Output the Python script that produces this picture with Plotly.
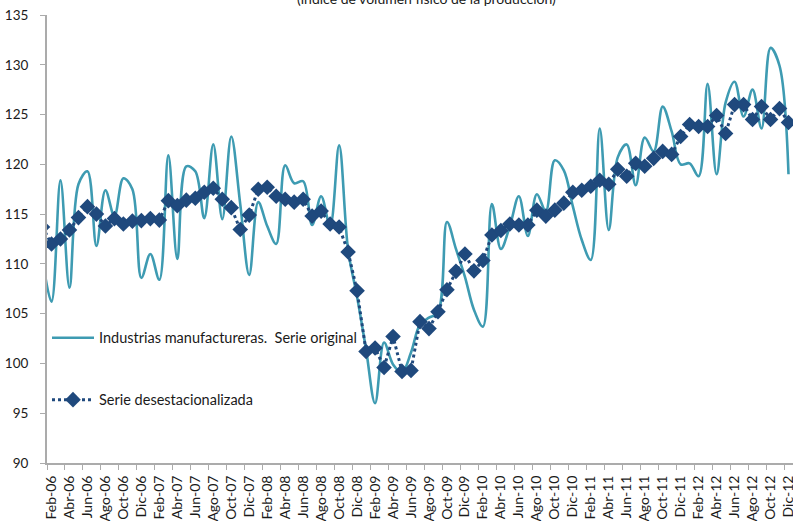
import plotly.graph_objects as go

meses = ["Ene", "Feb", "Mar", "Abr", "May", "Jun", "Jul", "Ago", "Sep", "Oct", "Nov", "Dic"]
anios = ["06", "07", "08", "09", "10", "11", "12"]
periodos = [f"{m}-{a}" for a in anios for m in meses]  # Ene-06 ... Dic-12

serie_original = [
    110.5, 106.2, 118.4, 107.6, 118.0, 119.3, 111.8, 117.4, 114.8, 118.6, 117.5, 108.6,   # 2006
    111.0, 108.4, 120.9, 110.5, 119.8, 119.3, 114.6, 122.0, 114.5, 122.8, 116.0, 108.9,   # 2007
    116.2, 113.8, 112.0, 119.9, 118.1, 118.3, 113.9, 116.8, 113.8, 121.9, 111.4, 106.7,   # 2008
    101.4, 96.0, 102.1, 99.9, 99.1, 101.1, 103.9, 104.6, 105.1, 114.2, 111.5, 108.7,      # 2009
    105.4, 103.7, 116.0, 111.5, 113.8, 116.8, 112.8, 117.0, 115.3, 120.4, 119.4, 115.8,   # 2010
    112.4, 110.4, 123.6, 113.4, 120.7, 122.0, 117.9, 122.7, 121.3, 125.8, 123.3, 120.0,   # 2011
    120.1, 118.8, 128.1, 119.0, 126.2, 128.3, 124.8, 127.5, 123.6, 131.7, 129.9, 119.0,   # 2012
]

serie_desestacionalizada = [
    113.7, 112.0, 112.5, 113.4, 114.65, 115.75, 115.0, 113.8, 114.55, 114.0, 114.3, 114.35,
    114.55, 114.4, 116.35, 115.85, 116.4, 116.6, 117.2, 117.6, 116.5, 115.65, 113.45, 114.9,
    117.5, 117.7, 116.8, 116.5, 116.2, 116.5, 114.8, 115.3, 114.0, 113.7, 111.2, 107.3,
    101.2, 101.55, 99.6, 102.7, 99.2, 99.3, 104.2, 103.5, 105.2, 107.4, 109.25, 111.0,
    109.3, 110.35, 112.9, 113.35, 114.0, 113.9, 113.9, 115.4, 114.8, 115.4, 116.1, 117.2,
    117.4, 117.8, 118.4, 118.0, 119.5, 118.8, 120.1, 119.8, 120.6, 121.3, 121.0, 122.8,
    124.0, 123.8, 123.8, 124.9, 123.1, 126.0, 126.0, 124.5, 125.8, 124.5, 125.6, 124.2,
]

titulo = "(índice de volumen físico de la producción)"
nombre_original = "Industrias manufactureras.  Serie original"
nombre_desest = "Serie desestacionalizada"

x = list(range(len(periodos)))
etiquetas_idx = list(range(1, len(periodos), 2))
etiquetas = [periodos[i] for i in etiquetas_idx]

FONT = "Lato, 'Open Sans', sans-serif"
AXIS_GRAY = "#ABABAB"

fig = go.Figure()
fig.add_trace(go.Scatter(
    x=x, y=serie_original, name=nombre_original, mode="lines",
    line=dict(color="#3E9BB2", width=2.6, shape="spline", smoothing=1.0),
    legendgroup="a",
))
fig.add_trace(go.Scatter(
    x=x, y=serie_desestacionalizada, name=nombre_desest, mode="lines+markers",
    line=dict(color="#1F497D", width=3, dash="dot"),
    marker=dict(symbol="diamond", size=12, color="#1F497D"),
    legendgroup="b",
))

fig.update_layout(
    width=793, height=521,
    margin=dict(l=47, r=0, t=15, b=58, autoexpand=False),
    paper_bgcolor="white", plot_bgcolor="white",
    font=dict(family=FONT, color="#1a1a1a"),
    showlegend=True,
    legend=dict(
        x=0.0, xanchor="left", y=0.315, yanchor="top",
        bgcolor="rgba(0,0,0,0)", traceorder="grouped", tracegroupgap=40,
        font=dict(size=14.5, family=FONT, color="#1a1a1a"), itemwidth=42,
    ),
    annotations=[dict(
        text=titulo, xref="paper", yref="paper", x=0.509, y=1.0134,
        xanchor="center", yanchor="bottom", showarrow=False,
        font=dict(size=14, family=FONT, color="#1a1a1a"),
    )],
)

fig.update_xaxes(
    range=[0.5, 83.5], automargin=False,
    tickmode="array", tickvals=etiquetas_idx, ticktext=etiquetas,
    tickangle=-90, tickfont=dict(size=14, family=FONT, color="#1a1a1a"),
    ticklabeloverflow="allow",
    ticks="outside", ticklen=5, tickcolor="rgba(0,0,0,0)",
    minor=dict(ticks="outside", tick0=0.5, dtick=2, ticklen=5, tickcolor=AXIS_GRAY, tickwidth=1),
    showline=True, linecolor=AXIS_GRAY, linewidth=2,
    showgrid=False, zeroline=False,
)
fig.update_yaxes(
    range=[90, 135], dtick=5, tick0=90, automargin=False,
    ticks="outside", ticklen=5, tickcolor=AXIS_GRAY, ticklabelstandoff=9,
    tickfont=dict(size=13.5, family=FONT, color="#1a1a1a"),
    showline=True, linecolor=AXIS_GRAY, linewidth=2,
    showgrid=False, zeroline=False,
)

fig.write_html(
    "out.html",
    config={"displayModeBar": False},
    post_script="document.body.style.margin='0';document.body.style.overflow='hidden';",
)
